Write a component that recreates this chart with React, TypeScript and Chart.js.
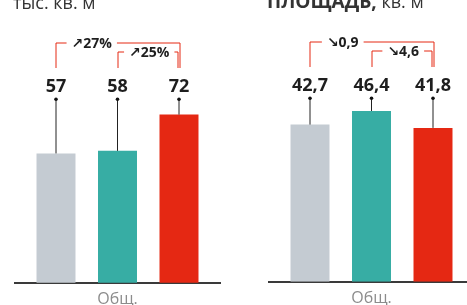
import React, { useEffect, useRef } from "react";
import { Chart, registerables } from "chart.js";

Chart.register(...registerables);

const FONT = '"Open Sans", "DejaVu Sans", sans-serif';

const categories = ["Общ."];
const seriesNames = ["Период 1", "Период 2", "Период 3"];
const seriesColors = ["#c4cbd2", "#37ada4", "#e52813"];

const leftValues = [57, 58, 72];
const leftChanges = ["↗27%", "↗25%"];
const leftTitleBold = "";
const leftTitleRegular = "тыс. кв. м";

const rightValues = [42.7, 46.4, 41.8];
const rightChanges = ["↘0,9", "↘4,6"];
const rightTitleBold = "ПЛОЩАДЬ,";
const rightTitleRegular = " кв. м";

const fmt = (v: number) => String(v).replace(".", ",");

const annotPlugin = {
  id: "annot",
  afterDatasetsDraw(chart: any, _args: any, opts: any) {
    const ctx = chart.ctx as CanvasRenderingContext2D;
    const top = chart.chartArea.top;
    const bars = [0, 1, 2].map((i) => chart.getDatasetMeta(i).data[0]);
    const xs = bars.map((b: any) => b.x);
    const dotY = top + 69.3;
    ctx.save();
    // stems and dots
    bars.forEach((b: any) => {
      ctx.strokeStyle = "#222";
      ctx.lineWidth = 1;
      ctx.beginPath();
      ctx.moveTo(b.x, b.y);
      ctx.lineTo(b.x, dotY);
      ctx.stroke();
      ctx.fillStyle = "#111";
      ctx.beginPath();
      ctx.arc(b.x, dotY, 1.8, 0, Math.PI * 2);
      ctx.fill();
    });
    // value labels
    ctx.fillStyle = "#1e1e1e";
    ctx.font = `bold 18px ${FONT}`;
    ctx.textAlign = "center";
    ctx.textBaseline = "alphabetic";
    (opts.values as number[]).forEach((v, i) => {
      ctx.fillText(fmt(v), xs[i], dotY - 7.5);
    });
    // brackets
    const botY = Math.round(dotY - 31.3);
    const drawBracket = (x1: number, x2: number, y: number, label: string, lx: number) => {
      ctx.font = `bold 14px ${FONT}`;
      const w = ctx.measureText(label).width;
      const g1 = lx - w / 2 - 5;
      const g2 = lx + w / 2 + 5;
      ctx.strokeStyle = "#e52813";
      ctx.lineWidth = 1;
      ctx.beginPath();
      ctx.moveTo(x1, botY);
      ctx.lineTo(x1, y);
      ctx.lineTo(g1, y);
      ctx.moveTo(g2, y);
      ctx.lineTo(x2, y);
      ctx.lineTo(x2, botY);
      ctx.stroke();
      ctx.fillStyle = "#1e1e1e";
      ctx.textAlign = "center";
      ctx.textBaseline = "middle";
      ctx.fillText(label, lx, y + 1.5);
    };
    const ch = opts.changes as string[];
    drawBracket(
      Math.round(xs[0]),
      Math.round(xs[2]) + 1,
      Math.round(dotY - 56),
      ch[0],
      (xs[0] + xs[1]) / 2 + (opts.outerShift || 0)
    );
    drawBracket(
      Math.round(xs[1]),
      Math.round(xs[2]) - 1,
      Math.round(dotY - 47),
      ch[1],
      (xs[1] + xs[2]) / 2 + 1
    );
    // title
    ctx.textAlign = "left";
    ctx.textBaseline = "alphabetic";
    ctx.fillStyle = "#333";
    let tx = 13;
    if (opts.titleBold) {
      ctx.font = `bold 19px ${FONT}`;
      ctx.fillText(opts.titleBold, tx, 9);
      tx += ctx.measureText(opts.titleBold).width;
    }
    ctx.font = `18px ${FONT}`;
    ctx.fillText(opts.titleRegular, tx, 9);
    ctx.restore();
  },
};

function BarPanel(props: {
  values: number[];
  changes: string[];
  titleBold: string;
  titleRegular: string;
  yMin: number;
  yMax: number;
  left: number;
  top: number;
  outerShift: number;
}) {
  const ref = useRef<HTMLCanvasElement | null>(null);
  useEffect(() => {
    if (!ref.current) return;
    const chart = new Chart(ref.current, {
      type: "bar",
      data: {
        labels: categories,
        datasets: seriesNames.map((name, i) => ({
          label: name,
          data: [props.values[i]],
          backgroundColor: seriesColors[i],
          barPercentage: 0.634,
          categoryPercentage: 0.9,
        })),
      },
      options: {
        animation: false,
        responsive: false,
        maintainAspectRatio: false,
        layout: { padding: { top: 30, left: 15, right: 14, bottom: 0 } },
        plugins: {
          legend: { display: false },
          tooltip: { enabled: false },
          annot: {
            values: props.values,
            changes: props.changes,
            titleBold: props.titleBold,
            titleRegular: props.titleRegular,
            outerShift: props.outerShift,
          },
        } as any,
        scales: {
          x: {
            grid: { display: false, drawTicks: false },
            border: { display: true, color: "#3a3a3a", width: 2 },
            ticks: { color: "#8c8c8c", font: { family: FONT, size: 16 }, padding: 7 },
          },
          y: { display: false, min: props.yMin, max: props.yMax },
        },
      },
      plugins: [annotPlugin as any],
    });
    return () => chart.destroy();
  }, []);
  return (
    <canvas
      ref={ref}
      width={234}
      height={316}
      style={{ position: "absolute", left: props.left, top: props.top, width: 234, height: 316 }}
    />
  );
}

export default function App() {
  return (
    <div
      style={{
        position: "fixed",
        left: 0,
        top: 0,
        width: 467,
        height: 305,
        overflow: "hidden",
        background: "#fff",
      }}
    >
      <BarPanel
        values={leftValues}
        changes={leftChanges}
        titleBold={leftTitleBold}
        titleRegular={leftTitleRegular}
        yMin={7}
        yMax={104.7}
        left={0}
        top={0}
        outerShift={5}
      />
      <BarPanel
        values={rightValues}
        changes={rightChanges}
        titleBold={rightTitleBold}
        titleRegular={rightTitleRegular}
        yMin={0}
        yMax={68.66}
        left={254}
        top={-1}
        outerShift={2}
      />
    </div>
  );
}
